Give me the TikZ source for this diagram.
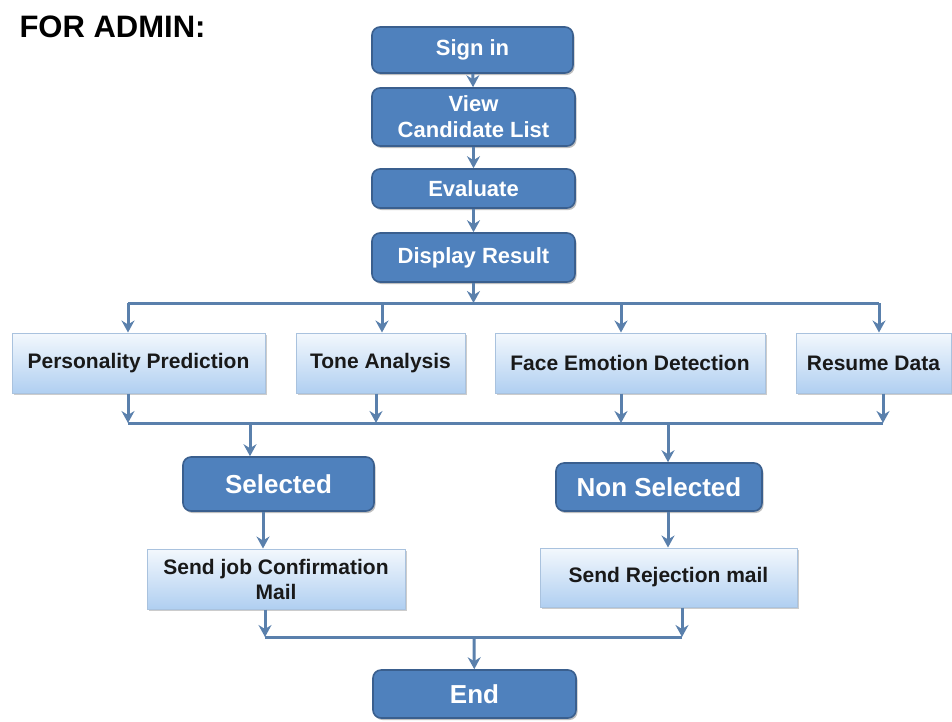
\documentclass[tikz,border=0pt]{standalone}
\usepackage{fontspec}
\setmainfont{Liberation Sans}
\usetikzlibrary{arrows.meta,shadows}
\definecolor{darkfill}{HTML}{4F81BD}
\definecolor{darkedge}{HTML}{3A5F8E}
\definecolor{lightedge}{HTML}{A9C2DE}
\definecolor{lighttop}{HTML}{F3F8FD}
\definecolor{lightbot}{HTML}{B0CFF1}
\definecolor{linecol}{HTML}{5A80AC}
\tikzset{
  darkbox/.style={draw=darkedge, line width=1.6pt, fill=darkfill, rounded corners=8pt,
    text=white, font=\bfseries\fontsize{22}{26}\selectfont, align=center,
    inner sep=0pt, drop shadow={shadow xshift=1.5pt, shadow yshift=-2pt, fill=black, opacity=0.25}},
  bigdark/.style={darkbox, font=\bfseries\fontsize{26}{30}\selectfont},
  lightbox/.style={draw=lightedge, line width=1pt, top color=lighttop, bottom color=lightbot,
    text=black!90, font=\bfseries\fontsize{21}{25}\selectfont, align=center, inner sep=0pt,
    drop shadow={shadow xshift=1.5pt, shadow yshift=-2pt, fill=black, opacity=0.2}},
  conn/.style={draw=linecol, line width=3pt},
  arr/.style={conn, -{Stealth[length=12pt,width=13pt,inset=4pt]}},
}
\begin{document}
\begin{tikzpicture}[x=1pt,y=-1pt]
\useasboundingbox (0,0) rectangle (952,721);
\node[anchor=base west, font=\bfseries\fontsize{31}{36}\selectfont] (title) at (16,37) {FOR ADMIN:};

\node[darkbox, minimum width=201pt, minimum height=46pt] (signin) at (472.5,50) {Sign in};
\node[darkbox, minimum width=203pt, minimum height=58pt] (view) at (473.5,117) {View\\Candidate List};
\node[darkbox, minimum width=203pt, minimum height=39pt] (eval) at (473.5,188.5) {Evaluate};
\node[darkbox, minimum width=203pt, minimum height=49pt] (disp) at (473.5,257.5) {Display Result};

\node[lightbox, minimum width=253pt, minimum height=60pt] (pp) at (138.5,363) {Personality Prediction};
\node[lightbox, minimum width=169pt, minimum height=60pt] (ta) at (380.5,363) {Tone Analysis};
\node[lightbox, minimum width=270pt, minimum height=60pt] (fe) at (630,363) {Face Emotion Detection};
\node[lightbox, minimum width=155pt, minimum height=60pt] (rd) at (873.5,363) {Resume Data};

\node[bigdark, minimum width=191pt, minimum height=54pt] (sel) at (278.5,484) {Selected};
\node[bigdark, minimum width=206pt, minimum height=48pt] (nonsel) at (659,487) {Non Selected};

\node[lightbox, minimum width=258pt, minimum height=60pt] (sjc) at (276,579) {Send job Confirmation\\Mail};
\node[lightbox, minimum width=257pt, minimum height=59pt] (srm) at (668.5,577.5) {Send Rejection mail};

\node[bigdark, minimum width=203pt, minimum height=48pt] (end) at (474.5,694) {End};

% bus coordinates
\coordinate (t0) at (473.5,303);
\coordinate (t1) at (128,303);
\coordinate (t2) at (382,303);
\coordinate (t3) at (621,303);
\coordinate (t4) at (879,303);
\coordinate (u1) at (128,423);
\coordinate (u2) at (376,423);
\coordinate (u3) at (621,423);
\coordinate (u4) at (883,423);
\coordinate (s1) at (250,423);
\coordinate (s2) at (668,423);
\coordinate (s3) at (263,423);
\coordinate (v1) at (265,637);
\coordinate (v2) at (682,637);
\coordinate (v0) at (474,637);

\draw[arr] (signin) -- (view);
\draw[arr] (view) -- (eval);
\draw[arr] (eval) -- (disp);
\draw[arr] (disp) -- (t0);

\draw[conn] (t1) -- (t4);
\draw[arr] (t1) -- (t1 |- pp.north);
\draw[arr] (t2) -- (t2 |- ta.north);
\draw[arr] (t3) -- (t3 |- fe.north);
\draw[arr] (t4) -- (t4 |- rd.north);

\draw[arr] (u1 |- pp.south) -- (u1);
\draw[arr] (u2 |- ta.south) -- (u2);
\draw[arr] (u3 |- fe.south) -- (u3);
\draw[arr] (u4 |- rd.south) -- (u4);
\draw[conn] (u1) -- (u4);

\draw[arr] (s1) -- (s1 |- sel.north);
\draw[arr] (s2) -- (s2 |- nonsel.north);

\draw[arr] (s3 |- sel.south) -- (s3 |- sjc.north);
\draw[arr] (s2 |- nonsel.south) -- (s2 |- srm.north);

\draw[arr] (v1 |- sjc.south) -- (v1);
\draw[arr] (v2 |- srm.south) -- (v2);
\draw[conn] (v1) -- (v2);
\draw[arr] (v0) -- (end);
\end{tikzpicture}
\end{document}
